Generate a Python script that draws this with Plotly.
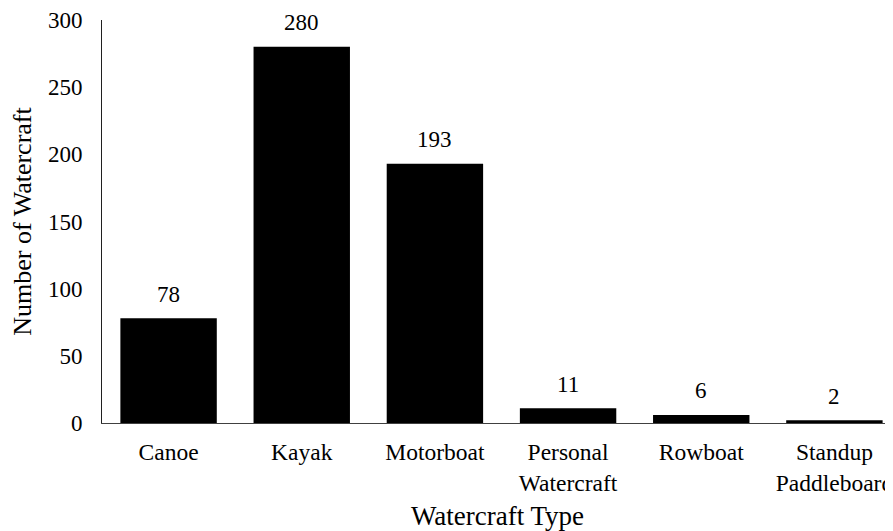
import plotly.graph_objects as go

# watercraft counts
categories = ['Canoe', 'Kayak', 'Motorboat', 'Personal<br>Watercraft', 'Rowboat', 'Standup<br>Paddleboard']
counts = [78, 280, 193, 11, 6, 2]
y_ticks = [0, 50, 100, 150, 200, 250, 300]

font_family = 'Liberation Serif'

fig = go.Figure()
fig.add_trace(go.Bar(x=categories, y=counts, marker=dict(color='black', line=dict(width=0))))

# value labels above bars
for c, v in zip(categories, counts):
    fig.add_annotation(x=c, y=v, text=str(v), showarrow=False, yanchor='middle', yshift=24,
                       font=dict(family=font_family, size=23, color='black'))

# page body has an 8px default margin, so the figure is 8px smaller
fig.update_layout(
    width=885, height=523,
    margin=dict(l=94, r=0, t=12, b=108),
    paper_bgcolor='white', plot_bgcolor='white',
    bargap=0.276,
    showlegend=False,
    font=dict(family=font_family, size=23, color='black'),
    xaxis=dict(
        type='category',
        range=[-0.5, 5.44],
        automargin=False,
        showline=True, linecolor='#404040', linewidth=1,
        ticks='', showgrid=False,
        ticklabelstandoff=8,
        tickfont=dict(family=font_family, size=23.5),
        title=dict(text='Watercraft Type', font=dict(family=font_family, size=27), standoff=19),
    ),
    yaxis=dict(
        range=[0, 300],
        tickvals=y_ticks,
        automargin=False,
        showline=True, linecolor='#202020', linewidth=1,
        ticks='', showgrid=False, zeroline=False,
        ticklabelstandoff=14,
        tickfont=dict(family=font_family, size=23),
        title=dict(text='Number of Watercraft', font=dict(family=font_family, size=26), standoff=8),
    ),
)

fig.write_html("out.html")
